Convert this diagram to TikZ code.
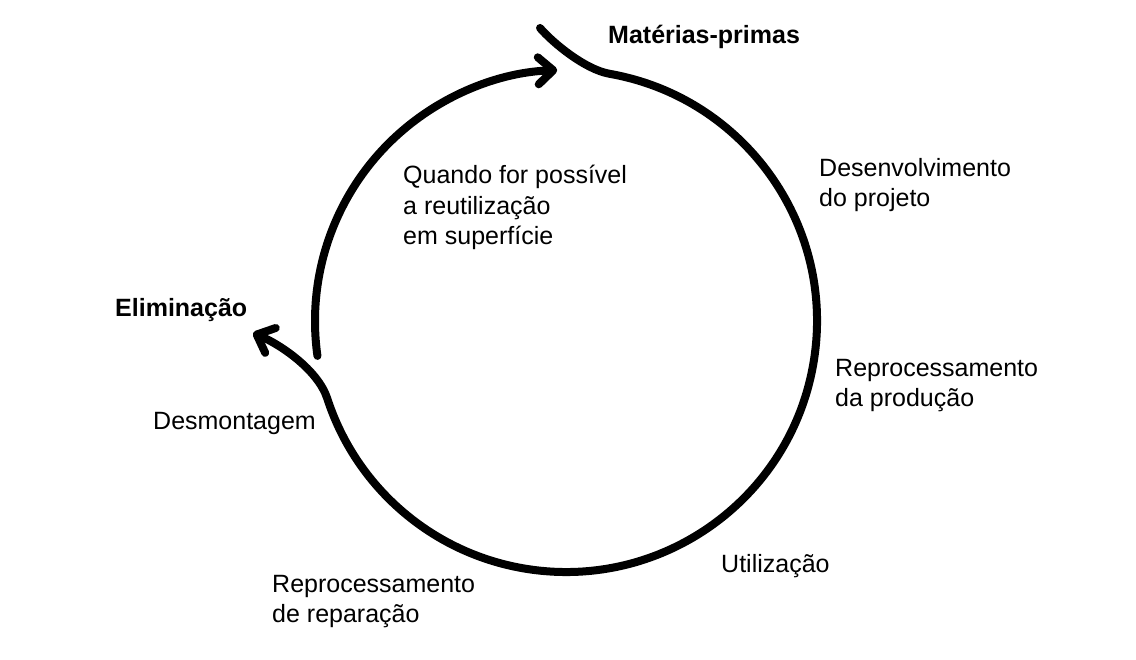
\documentclass[tikz,border=0pt]{standalone}
\usepackage{fontspec}
\setmainfont{Liberation Sans}
\usetikzlibrary{arrows.meta}
\begin{document}
\begin{tikzpicture}[x=1pt, y=1pt,
	steplabel/.style={anchor=base west, inner sep=0pt, align=left, font=\fontsize{25}{30.5}\selectfont},
	endlabel/.style={steplabel, font=\fontsize{25}{30.5}\selectfont\bfseries},
	cycle/.style={line width=8pt, line cap=round, -{Straight Barb[length=15pt, width=27pt, round]}}
	]
	\useasboundingbox (0,0) rectangle (1136,660);

	% centre of the cycle, ends of the arrows
	\coordinate (c) at (566,339);
	\coordinate (intake) at (540,632);
	\coordinate (elimtip) at (253,327);

	% main cycle
	\draw [cycle] (intake) .. controls (553,617) and (585,590.5) .. ([shift={(80:251)}]c)
		arc [start angle=80, end angle=-162, radius=251]
		.. controls +(108:30) and +(-23:30) .. (elimtip);

	% reuse
	\draw [cycle] ([shift={(188:251)}]c) arc [start angle=188, end angle=92, radius=251];

	% labels (anchored at the baseline of the last line)
	\node [endlabel] (materias) at (608,616) {Matérias-primas};
	\node [endlabel] (eliminacao) at (115,343) {Eliminação};
	\node [steplabel] (desenvolvimento) at (819,453) {Desenvolvimento\\do projeto};
	\node [steplabel] (reprocproducao) at (835,253) {Reprocessamento\\da produção};
	\node [steplabel] (utilizacao) at (721,87) {Utilização};
	\node [steplabel] (reprocreparacao) at (272,37) {Reprocessamento\\de reparação};
	\node [steplabel] (desmontagem) at (153,230) {Desmontagem};
	\node [steplabel] (reutilizacao) at (403,415) {Quando for possível\\a reutilização\\em superfície};
\end{tikzpicture}
\end{document}
